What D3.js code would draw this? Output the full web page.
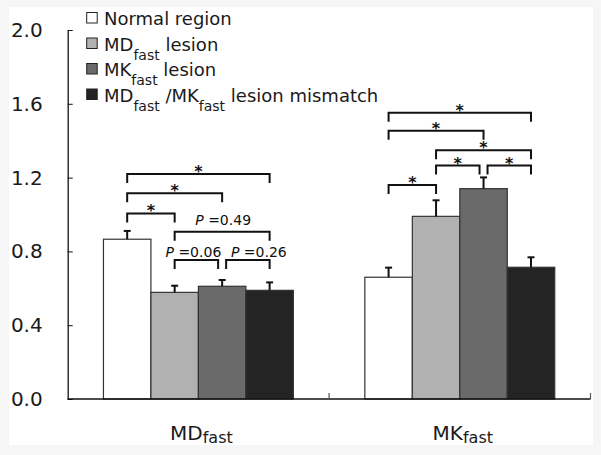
<!DOCTYPE html>
<html>
<head>
<meta charset="utf-8">
<script src="https://cdn.jsdelivr.net/npm/d3@7"></script>
<style>
  body { margin: 0; background: #f6f6f6; }
  svg { display: block; font-family: "DejaVu Sans", sans-serif; }
</style>
</head>
<body>
<svg id="chart"></svg>
<script>
// values
const categories = ["MDfast", "MKfast"];
const series = ["normal", "mdLesion", "mkLesion", "mismatch"];
const meanMD = [0.866, 0.578, 0.611, 0.589];
const errMD = [0.045, 0.036, 0.034, 0.043];
const meanMK = [0.66, 0.99, 1.14, 0.714];
const errMK = [0.052, 0.087, 0.061, 0.054];
const yTicks = [0, 0.4, 0.8, 1.2, 1.6, 2.0];

// comparison brackets: [from series, to series, height, label]
const bracketsMD = [
  [0, 1, 1.006, "*"],
  [0, 2, 1.115, "*"],
  [0, 3, 1.22, "*"],
  [1, 3, 0.907, "P =0.49"],
  [1, 2, 0.753, "P =0.06"],
  [2, 3, 0.753, "P =0.26"],
];
const bracketsMK = [
  [0, 1, 1.16, "*"],
  [1, 2, 1.265, "*"],
  [2, 3, 1.265, "*"],
  [1, 3, 1.348, "*"],
  [0, 2, 1.454, "*"],
  [0, 3, 1.552, "*"],
];

const svgWidth = 601;
const svgHeight = 455;
const svg = d3.select("#chart").attr("width", svgWidth).attr("height", svgHeight);

// white panel, faint grey border like the scan
svg.append("rect")
  .attr("x", 9).attr("y", 7)
  .attr("width", 584).attr("height", 438)
  .attr("fill", "#fff");

const x = d3.scaleBand().domain(categories).range([67.7, 590.5]).padding(0);
const xs = d3.scaleBand().domain(series).range([0, x.bandwidth()]).paddingInner(0).paddingOuter(0.753);
const y = d3.scaleLinear().domain([0, 2]).range([399, 30]);

const color = d3.scaleOrdinal().domain(series).range(["#ffffff", "#b1b1b1", "#6a6a6a", "#242424"]);

const rows = categories.map((c, i) => ({
  cat: c,
  means: i === 0 ? meanMD : meanMK,
  errs: i === 0 ? errMD : errMK,
  brackets: i === 0 ? bracketsMD : bracketsMK,
}));

// bars
const groups = svg.selectAll(".grp").data(rows).enter().append("g")
  .attr("class", "grp")
  .attr("transform", (d) => `translate(${x(d.cat)},0)`);

groups.selectAll("rect.bar")
  .data((d) => d.means.map((m, j) => ({ s: series[j], m: m, e: d.errs[j] })))
  .enter().append("rect")
  .attr("class", "bar")
  .attr("x", (d) => xs(d.s))
  .attr("y", (d) => y(d.m))
  .attr("width", xs.bandwidth())
  .attr("height", (d) => y(0) - y(d.m))
  .attr("fill", (d) => color(d.s))
  .attr("stroke", "#333")
  .attr("stroke-width", 1.2);

// error bars (upper only)
const eb = groups.selectAll("g.err")
  .data((d) => d.means.map((m, j) => ({ s: series[j], m: m, e: d.errs[j] })))
  .enter().append("g").attr("class", "err")
  .attr("stroke", "#111").attr("stroke-width", 2);
eb.append("line")
  .attr("x1", (d) => xs(d.s) + xs.bandwidth() / 2)
  .attr("x2", (d) => xs(d.s) + xs.bandwidth() / 2)
  .attr("y1", (d) => y(d.m))
  .attr("y2", (d) => y(d.m + d.e));
eb.append("line")
  .attr("x1", (d) => xs(d.s) + xs.bandwidth() / 2 - 3.5)
  .attr("x2", (d) => xs(d.s) + xs.bandwidth() / 2 + 3.5)
  .attr("y1", (d) => y(d.m + d.e))
  .attr("y2", (d) => y(d.m + d.e));

// P-value labels sit a little off-centre in the original
const labelNudge = { "P =0.06": [-3, -3], "P =0.26": [11, -3], "P =0.49": [1, -6.5] };

// significance brackets
const center = (j) => xs(series[j]) + xs.bandwidth() / 2;
groups.each(function (d) {
  const g = d3.select(this);
  d.brackets.forEach(([a, b, h, label]) => {
    // keep neighbours at the same height from touching
    const leftShared = d.brackets.some((o) => o[1] === a && o[2] === h);
    const rightShared = d.brackets.some((o) => o[0] === b && o[2] === h);
    const x1 = center(a) + (leftShared ? 4 : 0);
    const x2 = center(b) - (rightShared ? 4 : 0);
    const yy = y(h);
    g.append("path")
      .attr("d", `M${x1},${yy + 9}V${yy}H${x2}V${yy + 9}`)
      .attr("fill", "none")
      .attr("stroke", "#111")
      .attr("stroke-width", 2);
    if (label === "*") {
      g.append("text")
        .attr("x", (x1 + x2) / 2)
        .attr("y", yy + 3)
        .attr("text-anchor", "middle")
        .attr("font-size", 16)
        .attr("font-weight", "bold")
        .attr("fill", "#111")
        .text("*");
    } else {
      const [dx, dy] = labelNudge[label] || [0, -4];
      const t = g.append("text")
        .attr("x", (x1 + x2) / 2 + dx)
        .attr("y", yy + dy)
        .attr("text-anchor", "middle")
        .attr("font-size", 14)
        .attr("fill", "#111");
      t.append("tspan").attr("font-style", "italic").text("P");
      t.append("tspan").text(label.slice(1));
    }
  });
});

// y axis
const yAxis = svg.append("g")
  .attr("transform", "translate(67.7,0)")
  .call(d3.axisLeft(y).tickValues(yTicks).tickFormat(d3.format(".1f"))
    .tickSizeInner(-5).tickSizeOuter(0).tickPadding(25));
yAxis.select(".domain").attr("stroke", "#111").attr("stroke-width", 1.3);
yAxis.selectAll(".tick line").attr("stroke", "#111");
yAxis.selectAll(".tick text")
  .attr("font-size", 20)
  .attr("font-family", "DejaVu Sans, sans-serif")
  .attr("fill", "#1a1a1a");

// x axis line with ticks at the category boundaries
svg.append("line")
  .attr("x1", x.range()[0]).attr("x2", x.range()[1])
  .attr("y1", y(0)).attr("y2", y(0))
  .attr("stroke", "#111").attr("stroke-width", 1.3);
svg.selectAll(".xtick").data(categories).enter().append("line")
  .attr("class", "xtick")
  .attr("x1", (d) => x(d) + x.bandwidth())
  .attr("x2", (d) => x(d) + x.bandwidth())
  .attr("y1", y(0)).attr("y2", y(0) - 6)
  .attr("stroke", "#555").attr("stroke-width", 1.2);

// x labels with subscript
const xl = svg.selectAll(".xlab").data(categories).enter().append("text")
  .attr("class", "xlab")
  .attr("x", (d) => x(d) + x.bandwidth() / 2 + 3)
  .attr("y", 440)
  .attr("text-anchor", "middle")
  .attr("font-size", 20)
  .attr("fill", "#1a1a1a");
xl.append("tspan").text((d) => d.slice(0, 2));
xl.append("tspan").attr("font-size", 16).attr("dy", 3).text((d) => d.slice(2));

// legend
const legendItems = [
  [["Normal region", false]],
  [["MD", false], ["fast", true], [" lesion", false]],
  [["MK", false], ["fast", true], [" lesion", false]],
  [["MD", false], ["fast", true], [" /MK", false], ["fast", true], [" lesion mismatch", false]],
];
const lg = svg.selectAll(".leg").data(series).enter().append("g")
  .attr("class", "leg")
  .attr("transform", (d, i) => `translate(0,${25 + i * 25.5})`);
lg.append("rect")
  .attr("x", 86.7).attr("y", -12.5)
  .attr("width", 10.5).attr("height", 10.5)
  .attr("fill", (d) => color(d))
  .attr("stroke", "#222").attr("stroke-width", 1);
lg.each(function (d, i) {
  const t = d3.select(this).append("text")
    .attr("x", 104).attr("y", 0)
    .attr("font-size", 18)
    .attr("fill", "#1a1a1a");
  let sub = false;
  legendItems[i].forEach(([txt, isSub]) => {
    const ts = t.append("tspan").text(txt).attr("font-size", isSub ? 14 : 18);
    if (isSub !== sub) ts.attr("dy", isSub ? 9 : -9);
    sub = isSub;
  });
});
</script>
</body>
</html>
